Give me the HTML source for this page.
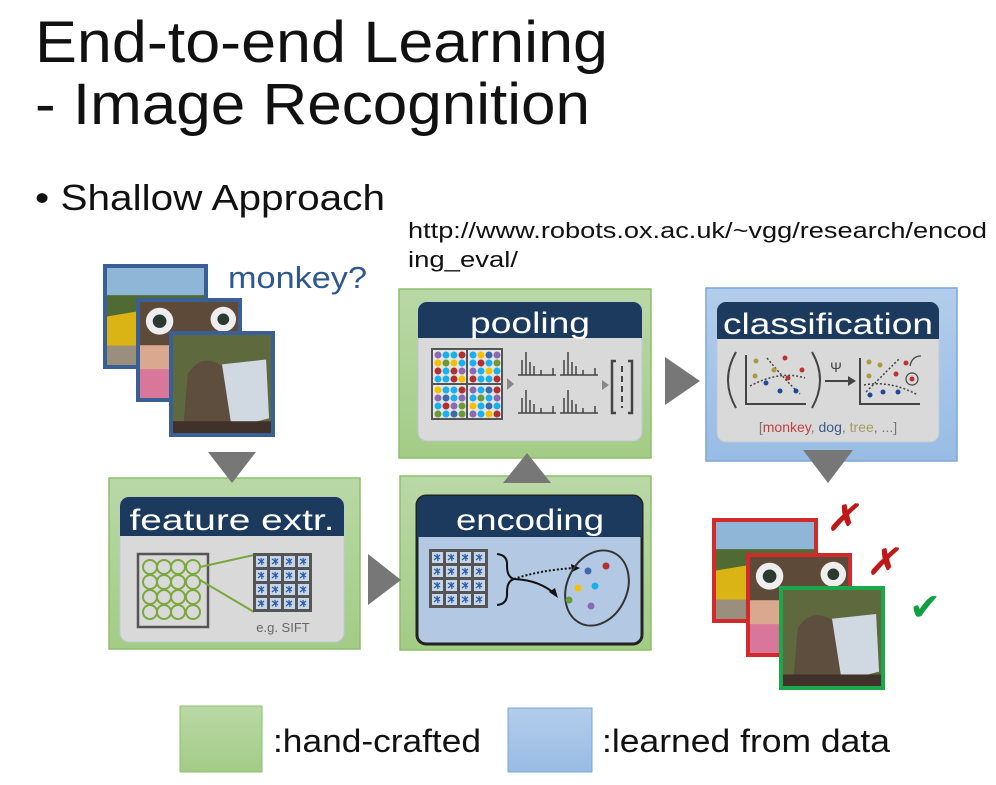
<!DOCTYPE html>
<html><head><meta charset="utf-8"><style>
html,body{margin:0;padding:0;background:#fff;}
svg{display:block;}
text{font-family:"Liberation Sans",sans-serif;}
</style></head><body>
<svg width="996" height="785" viewBox="0 0 996 785" xmlns="http://www.w3.org/2000/svg">
<defs>
 <linearGradient id="gg" x1="0" y1="0" x2="0" y2="1"><stop offset="0" stop-color="#b9d8a6"/><stop offset="1" stop-color="#a3cc86"/></linearGradient>
 <linearGradient id="bg" x1="0" y1="0" x2="0" y2="1"><stop offset="0" stop-color="#b3cdeb"/><stop offset="1" stop-color="#98bce4"/></linearGradient>
 <g id="cell">
  <rect width="14" height="14" fill="#555"/><rect x="2" y="2" width="11" height="11" fill="#c7d6ea"/>
  <path d="M4 5l6 4M7 4l1 7M4 10l6-5" stroke="#2a5aa0" stroke-width="1.2"/>
 </g>
 <pattern id="sift1" x="254" y="554" width="14" height="14" patternUnits="userSpaceOnUse"><use href="#cell"/></pattern>
 <pattern id="sift2" x="430" y="550" width="14" height="14" patternUnits="userSpaceOnUse"><use href="#cell"/></pattern>
 <g id="car">
  <rect width="100" height="100" fill="#8fb6d6"/>
  <rect y="28" width="100" height="30" fill="#4f6a32"/>
  <path d="M0 50 L60 40 L95 55 L90 80 L0 85Z" fill="#d9b414"/>
  <rect y="80" width="100" height="20" fill="#9a8e7c"/>
 </g>
 <g id="kid">
  <rect width="100" height="100" fill="#d9a88e"/>
  <rect width="100" height="45" fill="#5e4a38"/>
  <circle cx="20" cy="20" r="14" fill="#eee"/><circle cx="20" cy="20" r="7" fill="#2a3a30"/>
  <circle cx="85" cy="18" r="13" fill="#eee"/><circle cx="85" cy="18" r="6" fill="#2a3a30"/>
  <rect y="70" width="40" height="30" fill="#d8779a"/>
 </g>
 <g id="mon">
  <rect width="100" height="100" fill="#5e6a3e"/>
  <path d="M10 100 L15 40 Q30 15 55 35 L60 100Z" fill="#5e4e3e"/>
  <path d="M50 30 L95 25 L98 85 L60 95Z" fill="#d0d8e2"/>
  <rect y="88" width="100" height="12" fill="#40322a"/>
 </g>
</defs>

<!-- Titles -->
<text x="35" y="62" font-size="58" fill="#111" textLength="573" lengthAdjust="spacingAndGlyphs">End-to-end Learning</text>
<text x="35" y="124" font-size="58" fill="#111" textLength="555" lengthAdjust="spacingAndGlyphs">- Image Recognition</text>
<text x="35" y="210" font-size="36" fill="#111" textLength="350" lengthAdjust="spacingAndGlyphs">• Shallow Approach</text>
<text x="408" y="238" font-size="22" fill="#111" textLength="579" lengthAdjust="spacingAndGlyphs">http://www.robots.ox.ac.uk/~vgg/research/encod</text>
<text x="408" y="267" font-size="22" fill="#111" textLength="110" lengthAdjust="spacingAndGlyphs">ing_eval/</text>

<!-- input images -->
<rect x="103" y="264" width="105" height="105" fill="#3a5f94"/><use href="#car" transform="translate(107,268) scale(0.97)"/>
<rect x="136" y="298" width="106" height="104" fill="#3a5f94"/><use href="#kid" transform="translate(140,302) scale(0.98,0.96)"/>
<rect x="169" y="331" width="106" height="106" fill="#3a5f94"/><use href="#mon" transform="translate(173,335) scale(0.98)"/>
<text x="228" y="288" font-size="31" fill="#2e5890" textLength="139" lengthAdjust="spacingAndGlyphs">monkey?</text>

<!-- feature extr -->
<rect x="109" y="478" width="251" height="171" fill="url(#gg)" stroke="#8dbf6c" stroke-width="1.5"/>
<rect x="120" y="497" width="224" height="145" rx="9" fill="#d9d9d9" stroke="#bcc8d8"/>
<path d="M120 536 V506 a9 9 0 0 1 9-9 H335 a9 9 0 0 1 9 9 V536Z" fill="#1b3a5e"/>
<text x="232" y="530" font-size="30" fill="#fff" text-anchor="middle" textLength="205" lengthAdjust="spacingAndGlyphs">feature extr.</text>
<rect x="138" y="554" width="70" height="73" fill="none" stroke="#555" stroke-width="2.5"/>
<g fill="none" stroke="#7aa83a" stroke-width="2">
 <circle cx="150" cy="567" r="7"/><circle cx="164" cy="567" r="7"/><circle cx="178" cy="567" r="7"/><circle cx="193" cy="567" r="7"/>
 <circle cx="150" cy="582" r="7"/><circle cx="164" cy="582" r="7"/><circle cx="178" cy="582" r="7"/><circle cx="193" cy="582" r="7"/>
 <circle cx="150" cy="597" r="7"/><circle cx="164" cy="597" r="7"/><circle cx="178" cy="597" r="7"/><circle cx="193" cy="597" r="7"/>
 <circle cx="150" cy="612" r="7"/><circle cx="164" cy="612" r="7"/><circle cx="178" cy="612" r="7"/><circle cx="193" cy="612" r="7"/>
 <path d="M200 567 L254 555 M200 580 L254 612"/>
</g>
<rect x="254" y="554" width="57" height="57" fill="url(#sift1)" stroke="#555" stroke-width="2"/>
<text x="283" y="632" font-size="13" fill="#666" text-anchor="middle">e.g. SIFT</text>

<!-- encoding -->
<rect x="400" y="476" width="251" height="174" fill="url(#gg)" stroke="#8dbf6c" stroke-width="1.5"/>
<rect x="417" y="496" width="225" height="148" rx="9" fill="#b3c9e3" stroke="#222" stroke-width="3"/>
<path d="M417 537 V505 a9 9 0 0 1 9-9 H633 a9 9 0 0 1 9 9 V537Z" fill="#1b3a5e"/>
<text x="530" y="530" font-size="30" fill="#fff" text-anchor="middle" textLength="148" lengthAdjust="spacingAndGlyphs">encoding</text>
<rect x="430" y="550" width="57" height="57" fill="url(#sift2)" stroke="#555" stroke-width="2"/>
<path d="M497 554 Q508 555 507 566 Q507 577 514 579 Q507 581 507 592 Q508 604 497 605" fill="none" stroke="#111" stroke-width="2"/>
<path d="M514 579 Q540 580 556 595" fill="none" stroke="#111" stroke-width="2"/>
<path d="M514 579 Q540 570 575 568" fill="none" stroke="#111" stroke-width="2" stroke-dasharray="2,2"/>
<polygon points="558,598 549,592 555,588" fill="#111"/><polygon points="580,568 571,564 572,572" fill="#111"/>
<ellipse cx="597" cy="588" rx="30" ry="39" transform="rotate(25 597 588)" fill="none" stroke="#333" stroke-width="2"/>
<circle cx="588" cy="571" r="3.5" fill="#3a6aaa"/><circle cx="606" cy="566" r="3.5" fill="#b03030"/>
<circle cx="578" cy="588" r="3.5" fill="#f5c000"/><circle cx="595" cy="586" r="3.5" fill="#1ab0ee"/>
<circle cx="569" cy="600" r="3.5" fill="#6a9a3a"/><circle cx="591" cy="606" r="3.5" fill="#8a6ab0"/>

<!-- pooling -->
<rect x="399" y="289" width="252" height="169" fill="url(#gg)" stroke="#8dbf6c" stroke-width="1.5"/>
<rect x="418" y="302" width="224" height="139" rx="9" fill="#d9d9d9" stroke="#bcc8d8"/>
<path d="M418 338 V311 a9 9 0 0 1 9-9 H633 a9 9 0 0 1 9 9 V338Z" fill="#1b3a5e"/>
<text x="530" y="333" font-size="30" fill="#fff" text-anchor="middle" textLength="120" lengthAdjust="spacingAndGlyphs">pooling</text>
<rect x="431" y="348" width="72" height="72" fill="#555"/>
<g>
 <rect x="433" y="350" width="33" height="33" fill="#e6e6e6"/><rect x="468" y="350" width="33" height="33" fill="#e6e6e6"/>
 <rect x="433" y="385" width="33" height="33" fill="#e6e6e6"/><rect x="468" y="385" width="33" height="33" fill="#e6e6e6"/>
 <g>
  <circle cx="438" cy="355" r="3.5" fill="#8a6ab0"/><circle cx="446" cy="355" r="3.5" fill="#1ab0ee"/><circle cx="454" cy="355" r="3.5" fill="#1ab0ee"/><circle cx="462" cy="355" r="3.5" fill="#b03030"/>
  <circle cx="438" cy="363" r="3.5" fill="#f5c000"/><circle cx="446" cy="363" r="3.5" fill="#6a9a3a"/><circle cx="454" cy="363" r="3.5" fill="#f5c000"/><circle cx="462" cy="363" r="3.5" fill="#1ab0ee"/>
  <circle cx="438" cy="371" r="3.5" fill="#b03030"/><circle cx="446" cy="371" r="3.5" fill="#1ab0ee"/><circle cx="454" cy="371" r="3.5" fill="#b03030"/><circle cx="462" cy="371" r="3.5" fill="#8a6ab0"/>
  <circle cx="438" cy="379" r="3.5" fill="#1ab0ee"/><circle cx="446" cy="379" r="3.5" fill="#1ab0ee"/><circle cx="454" cy="379" r="3.5" fill="#b03030"/><circle cx="462" cy="379" r="3.5" fill="#f5c000"/>
  <circle cx="473" cy="355" r="3.5" fill="#1ab0ee"/><circle cx="481" cy="355" r="3.5" fill="#f5c000"/><circle cx="489" cy="355" r="3.5" fill="#3a6aaa"/><circle cx="497" cy="355" r="3.5" fill="#8a6ab0"/>
  <circle cx="473" cy="363" r="3.5" fill="#1ab0ee"/><circle cx="481" cy="363" r="3.5" fill="#b03030"/><circle cx="489" cy="363" r="3.5" fill="#1ab0ee"/><circle cx="497" cy="363" r="3.5" fill="#6a9a3a"/>
  <circle cx="473" cy="371" r="3.5" fill="#8a6ab0"/><circle cx="481" cy="371" r="3.5" fill="#1ab0ee"/><circle cx="489" cy="371" r="3.5" fill="#f5c000"/><circle cx="497" cy="371" r="3.5" fill="#1ab0ee"/>
  <circle cx="473" cy="379" r="3.5" fill="#b03030"/><circle cx="481" cy="379" r="3.5" fill="#1ab0ee"/><circle cx="489" cy="379" r="3.5" fill="#1ab0ee"/><circle cx="497" cy="379" r="3.5" fill="#b03030"/>
  <circle cx="438" cy="390" r="3.5" fill="#f5c000"/><circle cx="446" cy="390" r="3.5" fill="#1ab0ee"/><circle cx="454" cy="390" r="3.5" fill="#1ab0ee"/><circle cx="462" cy="390" r="3.5" fill="#b03030"/>
  <circle cx="438" cy="398" r="3.5" fill="#8a6ab0"/><circle cx="446" cy="398" r="3.5" fill="#3a6aaa"/><circle cx="454" cy="398" r="3.5" fill="#1ab0ee"/><circle cx="462" cy="398" r="3.5" fill="#8a6ab0"/>
  <circle cx="438" cy="406" r="3.5" fill="#1ab0ee"/><circle cx="446" cy="406" r="3.5" fill="#b03030"/><circle cx="454" cy="406" r="3.5" fill="#8a6ab0"/><circle cx="462" cy="406" r="3.5" fill="#6a9a3a"/>
  <circle cx="438" cy="414" r="3.5" fill="#6a9a3a"/><circle cx="446" cy="414" r="3.5" fill="#1ab0ee"/><circle cx="454" cy="414" r="3.5" fill="#3a6aaa"/><circle cx="462" cy="414" r="3.5" fill="#6a9a3a"/>
  <circle cx="473" cy="390" r="3.5" fill="#8a6ab0"/><circle cx="481" cy="390" r="3.5" fill="#1ab0ee"/><circle cx="489" cy="390" r="3.5" fill="#3a6aaa"/><circle cx="497" cy="390" r="3.5" fill="#b03030"/>
  <circle cx="473" cy="398" r="3.5" fill="#1ab0ee"/><circle cx="481" cy="398" r="3.5" fill="#6a9a3a"/><circle cx="489" cy="398" r="3.5" fill="#1ab0ee"/><circle cx="497" cy="398" r="3.5" fill="#8a6ab0"/>
  <circle cx="473" cy="406" r="3.5" fill="#f5c000"/><circle cx="481" cy="406" r="3.5" fill="#1ab0ee"/><circle cx="489" cy="406" r="3.5" fill="#3a6aaa"/><circle cx="497" cy="406" r="3.5" fill="#1ab0ee"/>
  <circle cx="473" cy="414" r="3.5" fill="#8a6ab0"/><circle cx="481" cy="414" r="3.5" fill="#1ab0ee"/><circle cx="489" cy="414" r="3.5" fill="#f5c000"/><circle cx="497" cy="414" r="3.5" fill="#b03030"/>
 </g>
</g>
<polygon points="507,378 514,384 507,390" fill="#888"/>
<g stroke="#444" stroke-width="1.5" fill="none">
 <path d="M518 375 H556 M522 375 V360 M526 375 V352 M530 375 V362 M534 375 V366 M541 375 V370 M553 375 V368"/>
 <path d="M560 375 H598 M564 375 V360 M568 375 V352 M572 375 V362 M576 375 V366 M583 375 V370 M595 375 V368"/>
 <path d="M518 413 H556 M522 413 V398 M526 413 V390 M530 413 V400 M534 413 V404 M541 413 V408 M553 413 V406"/>
 <path d="M560 413 H598 M564 413 V398 M568 413 V390 M572 413 V400 M576 413 V404 M583 413 V408 M595 413 V406"/>
 <path d="M616 361 H612 V413 H616 M628 361 H632 V413 H628" stroke-width="2.5"/>
 <path d="M622 366 V408" stroke-dasharray="6,4" stroke-width="2"/>
</g>
<polygon points="602,380 609,385 602,390" fill="#888"/>

<!-- classification -->
<rect x="706" y="288" width="251" height="173" fill="url(#bg)" stroke="#7aa7d8" stroke-width="1.5"/>
<rect x="717" y="302" width="222" height="140" rx="9" fill="#d9d9d9" stroke="#bcc8d8"/>
<path d="M717 339 V311 a9 9 0 0 1 9-9 H930 a9 9 0 0 1 9 9 V339Z" fill="#1b3a5e"/>
<text x="828" y="334" font-size="30" fill="#fff" text-anchor="middle" textLength="210" lengthAdjust="spacingAndGlyphs">classification</text>
<g fill="none" stroke="#444" stroke-width="2">
 <path d="M736 352 Q720 380 736 408"/><path d="M812 352 Q828 380 812 408"/>
 <path d="M746 355 V404 H806"/><path d="M860 358 V404 H920"/>
 <path d="M825 381 H850"/>
</g>
<polygon points="848,376 856,381 848,386" fill="#444"/>
<text x="836" y="372" font-size="14" fill="#444" text-anchor="middle">Ψ</text>
<g fill="none" stroke="#444" stroke-width="1.5" stroke-dasharray="2,2">
 <path d="M750 386 Q780 370 805 378"/><path d="M767 358 Q785 380 800 394"/>
 <path d="M864 385 Q890 380 918 395"/><path d="M866 392 Q890 368 900 358"/>
</g>
<g>
 <circle cx="756" cy="361" r="2.5" fill="#a89a40"/><circle cx="774" cy="370" r="2.5" fill="#a89a40"/><circle cx="755" cy="376" r="2.5" fill="#a89a40"/>
 <circle cx="785" cy="358" r="2.5" fill="#c03030"/><circle cx="802" cy="370" r="2.5" fill="#c03030"/><circle cx="788" cy="378" r="2.5" fill="#c03030"/>
 <circle cx="766" cy="383" r="2.5" fill="#1a4a9a"/><circle cx="780" cy="391" r="2.5" fill="#1a4a9a"/><circle cx="796" cy="391" r="2.5" fill="#1a4a9a"/>
 <circle cx="869" cy="362" r="2.5" fill="#a89a40"/><circle cx="880" cy="365" r="2.5" fill="#a89a40"/><circle cx="869" cy="376" r="2.5" fill="#a89a40"/>
 <circle cx="906" cy="363" r="2.5" fill="#c03030"/><circle cx="896" cy="374" r="2.5" fill="#c03030"/><circle cx="912" cy="379" r="2.5" fill="#c03030"/>
 <circle cx="870" cy="395" r="2.5" fill="#1a4a9a"/><circle cx="883" cy="392" r="2.5" fill="#1a4a9a"/><circle cx="898" cy="392" r="2.5" fill="#1a4a9a"/>
 <circle cx="912" cy="379" r="6" fill="none" stroke="#444" stroke-width="1.2"/>
 <path d="M910 366 Q912 356 921 356" fill="none" stroke="#444" stroke-width="1.3"/>
</g>
<text x="828" y="432" font-size="14" text-anchor="middle" fill="#777">[<tspan fill="#c04040">monkey</tspan>, <tspan fill="#3a5a8a">dog</tspan>, <tspan fill="#a89a60">tree</tspan>, ...]</text>

<!-- arrows (on top) -->
<polygon points="208,452 256,452 232,483" fill="#777"/>
<polygon points="368,554 401,580 368,605" fill="#777"/>
<polygon points="503,483 551,483 527,453" fill="#777"/>
<polygon points="665,357 700,381 665,405" fill="#777"/>
<polygon points="803,450 853,450 828,483" fill="#777"/>

<!-- results -->
<rect x="712" y="518" width="106" height="105" fill="#d02a2a"/><use href="#car" transform="translate(716,522) scale(0.98,0.97)"/>
<rect x="746" y="553" width="106" height="104" fill="#d02a2a"/><use href="#kid" transform="translate(750,557) scale(0.98,0.96)"/>
<rect x="779" y="586" width="106" height="104" fill="#1aa84a"/><use href="#mon" transform="translate(783,590) scale(0.98,0.96)"/>
<text x="842" y="530" font-size="36" fill="#c01818" text-anchor="middle" font-style="italic" font-weight="bold">✗</text>
<text x="882" y="574" font-size="36" fill="#c01818" text-anchor="middle" font-style="italic" font-weight="bold">✗</text>
<text x="925" y="620" font-size="38" fill="#10a040" text-anchor="middle">✔</text>

<!-- legend -->
<rect x="180" y="706" width="82" height="66" fill="url(#gg)" stroke="#8dbf6c"/>
<text x="273" y="752" font-size="32" fill="#111" textLength="208" lengthAdjust="spacingAndGlyphs">:hand-crafted</text>
<rect x="508" y="708" width="84" height="64" fill="url(#bg)" stroke="#7aa7d8"/>
<text x="602" y="752" font-size="32" fill="#111" textLength="288" lengthAdjust="spacingAndGlyphs">:learned from data</text>
</svg>
</body></html>
